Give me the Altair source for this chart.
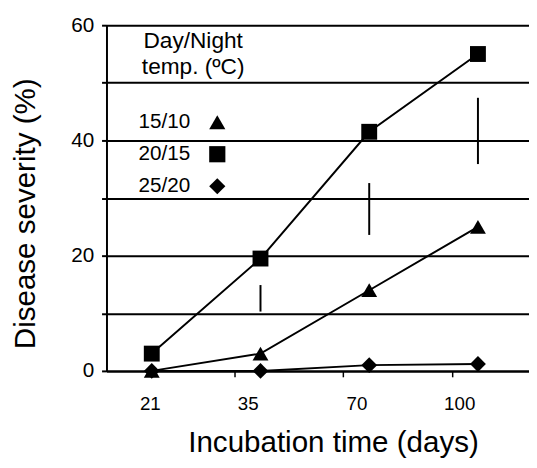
import altair as alt
import pandas as pd

# ---- data ----
days = ["21", "35", "70", "100"]
series = ["15/10", "20/15", "25/20"]
sev_15_10 = [0, 3, 14, 25]
sev_20_15 = [3, 19.5, 41.5, 55]
sev_25_20 = [0, 0, 1, 1.2]
lsd_days = ["35", "70", "100"]
lsd_low = [10.3, 23.6, 35.9]
lsd_high = [14.9, 32.6, 47.4]
y_ticks = [0, 10, 20, 30, 40, 50, 60]
shapes = ["triangle-up", "square", "diamond"]

rows = []
for s, vals in zip(series, [sev_15_10, sev_20_15, sev_25_20]):
    for d, v in zip(days, vals):
        rows.append({"day": d, "temp": s, "sev": v})
df = pd.DataFrame(rows)
lsd = pd.DataFrame({"day": lsd_days, "low": lsd_low, "high": lsd_high})

F = "Liberation Sans"

xscale = alt.Scale(type="point", domain=days, padding=0.443, align=0.47)
yscale = alt.Scale(domain=[0, 60], nice=False, zero=True)

x_enc = alt.X(
    "day:O", scale=xscale, sort=days,
    axis=alt.Axis(
        title="Incubation time (days)", labelAngle=0, grid=False,
        domainColor="black", domainWidth=2,
        tickColor="black", tickWidth=1.5, tickSize=6, tickOffset=84,
        labelOffset={
            "condition": [
                {"test": "datum.label == '21'", "value": -86},
                {"test": "datum.label == '100'", "value": -103},
            ],
            "value": -97,
        },
        labelPadding=18, labelFont=F, labelFontSize=19,
        labelColor="black",
        titleFont=F, titleFontSize=30, titleFontWeight="normal", titleColor="black",
        titleX=230, titleY=82, titleAlign="center", titleBaseline="alphabetic",
    ),
)
y_enc = alt.Y(
    "sev:Q", scale=yscale,
    axis=alt.Axis(
        title="Disease severity (%)", values=y_ticks,
        labelExpr="datum.value % 20 === 0 ? datum.label : ''",
        grid=True, gridColor="black", gridWidth=2, gridOpacity=1,
        domainColor="black", domainWidth=2,
        tickColor="black", tickWidth=2, tickSize=5,
        labelPadding=8, labelFont=F, labelFontSize=21, labelColor="black",
        titleFont=F, titleFontSize=30, titleFontWeight="normal", titleColor="black",
        titleX=-73, titleY=191, titleAngle=270, titleAlign="center",
        titleBaseline="alphabetic",
    ),
)

lines = alt.Chart(df).mark_line(color="black", strokeWidth=2).encode(
    x=x_enc, y=y_enc, detail="temp:N"
)

rules = alt.Chart(lsd).mark_rule(color="black", strokeWidth=2).encode(
    x=alt.X("day:O", scale=xscale, sort=days),
    y=alt.Y("low:Q", scale=yscale),
    y2="high:Q",
)

points = alt.Chart(df).mark_point(filled=True, color="black", opacity=1, size=260).encode(
    x=x_enc, y=y_enc,
    shape=alt.Shape(
        "temp:N", scale=alt.Scale(domain=series, range=shapes),
        legend=alt.Legend(
            title=["Day/Night", "temp. (\u00baC)"], orient="none",
            legendX=36, legendY=5, padding=0,
            titleFont=F, titleFontSize=23, titleFontWeight="normal",
            titleColor="black", titleLineHeight=27, titleAlign="center",
            titleAnchor="middle", titlePadding=33,
            labelFont=F, labelFontSize=21, labelColor="black",
            labelAlign="right", labelOffset={"expr": "-38"}, symbolOffset=47,
            symbolFillColor="black", symbolStrokeColor="black",
            symbolStrokeWidth=0, symbolSize=270, symbolOpacity=1,
            rowPadding=10.5,
        ),
    ),
)

chart = (
    alt.layer(lines, rules, points)
    .properties(
        width=429, height=351,
        autosize=alt.AutoSizeParams(type="none"),
        padding={"left": 100, "top": 14, "right": 0, "bottom": 87},
        background="white",
    )
    .configure_view(stroke=None)
)

chart.save("out.html", embed_options={"renderer": "svg", "actions": False})
